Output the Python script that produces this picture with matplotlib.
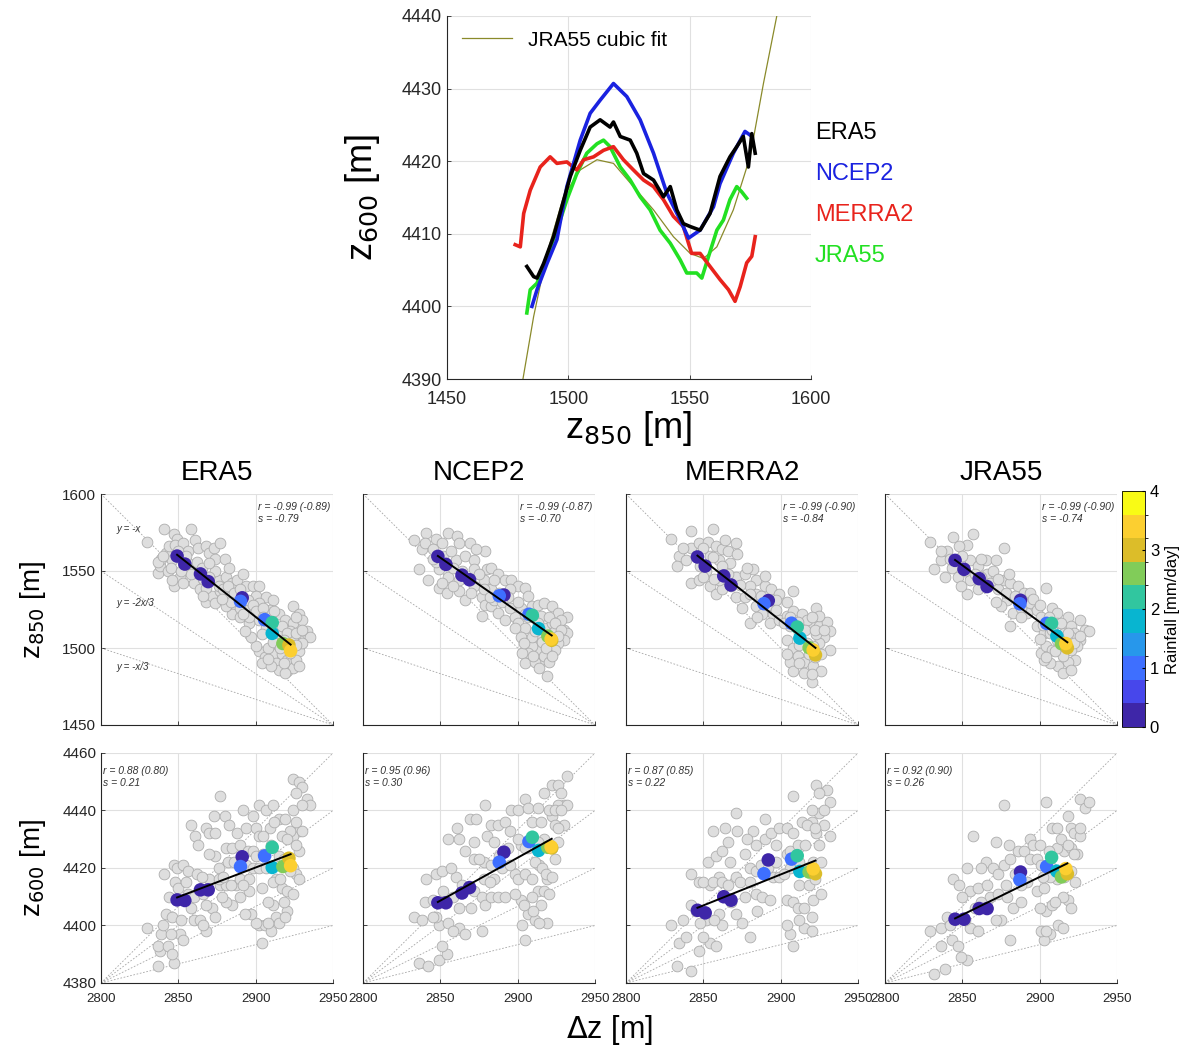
import numpy as np
import matplotlib
matplotlib.use('Agg')
import matplotlib.pyplot as plt
from matplotlib.colors import ListedColormap, BoundaryNorm

plt.rcParams['font.family'] = ['Liberation Sans', 'DejaVu Sans']

names = ['ERA5', 'NCEP2', 'MERRA2', 'JRA55']
curve_colors = ['black', '#1a22e0', '#e8231c', '#22e022']

# ---- top panel: running curves z600 vs z850
era5_c850 = [1482.9, 1485.7, 1487.1, 1489.8, 1493.9, 1497.3, 1500.8, 1504.9, 1509.0, 1513.1, 1517.2, 1518.6,
             1521.4, 1525.5, 1528.2, 1531.0, 1535.1, 1539.2, 1542.0, 1544.7, 1547.4, 1550.2, 1554.3, 1558.4,
             1562.5, 1566.6, 1569.4, 1572.1, 1574.2, 1575.6, 1577.0]
era5_c600 = [4405.5, 4404.1, 4403.9, 4405.9, 4409.6, 4413.7, 4417.9, 4421.5, 4424.7, 4425.7, 4424.7, 4425.4,
             4423.4, 4422.9, 4421.1, 4418.3, 4417.4, 4415.1, 4416.5, 4413.3, 4411.4, 4411.0, 4410.5, 4412.8,
             4417.9, 4420.6, 4422.0, 4423.4, 4419.2, 4423.8, 4421.1]
ncep2_c850 = [1485.0, 1487.1, 1491.2, 1495.3, 1499.4, 1504.9, 1509.0, 1513.1, 1518.6, 1524.1, 1529.6, 1535.1,
              1540.6, 1546.1, 1549.5, 1554.3, 1559.8, 1562.5, 1568.0, 1572.8, 1574.9]
ncep2_c600 = [4400.0, 4402.3, 4405.9, 4409.2, 4416.5, 4422.9, 4426.6, 4428.4, 4430.7, 4428.9, 4425.7, 4421.1,
              4415.6, 4411.9, 4409.4, 4410.5, 4413.7, 4416.9, 4421.1, 4424.1, 4423.6]
merra2_c850 = [1478.1, 1480.2, 1481.6, 1484.3, 1488.4, 1492.5, 1495.3, 1499.4, 1503.5, 1506.3, 1510.4, 1514.5,
               1518.6, 1522.7, 1526.8, 1531.0, 1535.1, 1539.2, 1543.3, 1547.4, 1550.8, 1554.3, 1558.4, 1562.5,
               1566.0, 1568.7, 1570.8, 1573.5, 1575.6, 1577.0]
merra2_c600 = [4408.5, 4408.2, 4412.8, 4416.0, 4419.2, 4420.6, 4419.7, 4419.9, 4418.8, 4420.2, 4420.6, 4421.5,
               4422.0, 4420.2, 4418.8, 4417.4, 4416.5, 4414.7, 4412.4, 4411.0, 4407.3, 4407.3, 4405.5, 4403.7,
               4402.3, 4400.7, 4402.7, 4406.0, 4406.9, 4409.6]
jra55_c850 = [1482.9, 1484.3, 1487.1, 1491.2, 1495.3, 1499.4, 1503.5, 1507.6, 1511.8, 1514.5, 1517.2, 1521.4,
              1525.5, 1529.6, 1533.7, 1537.8, 1542.0, 1546.1, 1548.8, 1552.9, 1555.0, 1557.8, 1561.2, 1563.9,
              1566.6, 1569.4, 1571.4, 1573.5]
jra55_c600 = [4399.1, 4402.3, 4403.2, 4406.9, 4410.5, 4414.7, 4418.3, 4421.1, 4422.4, 4422.9, 4422.0, 4419.2,
              4417.4, 4415.1, 4413.3, 4410.5, 4408.7, 4406.4, 4404.6, 4404.6, 4403.9, 4406.9, 4410.5, 4411.9,
              4414.7, 4416.5, 4415.8, 4414.9]
fit_c850 = [1481.3, 1485.7, 1491.2, 1498.0, 1504.9, 1511.8, 1518.6, 1526.8, 1535.1, 1543.3, 1550.2, 1555.7,
            1561.2, 1568.0, 1574.9, 1580.4, 1585.9]
fit_c600 = [4390.0, 4398.6, 4407.3, 4415.1, 4418.8, 4420.2, 4419.7, 4416.5, 4413.3, 4409.6, 4407.3, 4406.6,
            4408.2, 4413.3, 4420.6, 4430.7, 4440.0]

# ---- daily samples (thickness dz, z850); z600 = z850 + dz
era5_dz = [2830, 2841, 2847, 2858, 2849, 2837, 2838, 2839, 2842, 2844, 2846, 2848, 2853, 2856, 2861, 2863, 2868, 2870,
           2873, 2874, 2877, 2880, 2856, 2860, 2851, 2847, 2853, 2860, 2864, 2868, 2872, 2874, 2876, 2881, 2883, 2885,
           2888, 2892, 2874, 2894, 2898, 2902, 2900, 2907, 2911, 2902, 2894, 2887, 2885, 2881, 2890, 2898, 2902, 2896,
           2909, 2915, 2924, 2928, 2919, 2924, 2930, 2933, 2935, 2928, 2924, 2922, 2915, 2913, 2902, 2906, 2911, 2917,
           2920, 2924, 2928, 2930, 2913, 2915, 2920, 2924, 2926, 2904, 2900, 2897, 2893, 2837, 2843, 2846, 2870, 2877,
           2868, 2881, 2888, 2907, 2904, 2926, 2921, 2928, 2919, 2910,
           2840, 2845, 2850, 2855, 2858, 2862, 2865, 2866, 2870, 2876, 2879, 2882, 2886, 2890, 2884, 2890, 2895, 2898,
           2900, 2905, 2905, 2910, 2912, 2917, 2920, 2926, 2930, 2918, 2926, 2908, 2911, 2916, 2922, 2908, 2918, 2896,
           2892, 2878, 2866, 2852]
era5_z850 = [1569, 1577, 1574, 1577, 1571, 1549, 1553, 1558, 1562, 1566, 1557, 1567, 1568, 1563, 1570, 1565, 1566, 1562,
             1565, 1558, 1568, 1558, 1555, 1550, 1546, 1540, 1542, 1542, 1538, 1530, 1534, 1529, 1544, 1546, 1552, 1542,
             1544, 1548, 1550, 1540, 1540, 1540, 1534, 1533, 1531, 1529, 1527, 1527, 1522, 1527, 1520, 1522, 1518, 1516,
             1525, 1522, 1527, 1522, 1518, 1516, 1518, 1511, 1507, 1505, 1507, 1511, 1509, 1503, 1498, 1494, 1496, 1496,
             1492, 1496, 1498, 1503, 1490, 1486, 1485, 1487, 1492, 1490, 1501, 1507, 1511, 1556, 1550, 1544, 1546, 1537,
             1539, 1533, 1534, 1513, 1509, 1520, 1502, 1488, 1484, 1488,
             1560, 1552, 1563, 1560, 1548, 1556, 1552, 1545, 1555, 1540, 1538, 1540, 1536, 1538, 1530, 1526, 1531, 1528,
             1524, 1526, 1520, 1518, 1524, 1514, 1510, 1510, 1512, 1505, 1502, 1500, 1504, 1500, 1497, 1493, 1490, 1520,
             1522, 1532, 1534, 1550]
ncep2_dz = [2833, 2841, 2855, 2861, 2847, 2851, 2862, 2869, 2879, 2873, 2838, 2836, 2842, 2849, 2855, 2860, 2866, 2872,
            2849, 2854, 2862, 2866, 2872, 2878, 2880, 2883, 2887, 2892, 2896, 2900, 2905, 2907, 2895, 2883, 2877, 2879,
            2883, 2887, 2892, 2877, 2898, 2900, 2905, 2902, 2898, 2909, 2913, 2917, 2922, 2926, 2932, 2930, 2926, 2932,
            2930, 2926, 2924, 2919, 2915, 2913, 2909, 2907, 2903, 2905, 2911, 2917, 2920, 2919, 2914, 2917, 2922, 2907,
            2915, 2924, 2847, 2862, 2894, 2885, 2872, 2909, 2928,
            2840, 2845, 2852, 2857, 2858, 2864, 2868, 2845, 2851, 2858, 2875, 2878, 2885, 2888, 2890, 2895, 2902, 2905,
            2900, 2910, 2913, 2920, 2924, 2928, 2911, 2916, 2922, 2926, 2918, 2910, 2914, 2922, 2904, 2870, 2882]
ncep2_z850 = [1570, 1575, 1575, 1573, 1571, 1568, 1568, 1568, 1563, 1564, 1564, 1551, 1544, 1551, 1546, 1557, 1560, 1557,
              1539, 1536, 1537, 1531, 1540, 1544, 1551, 1552, 1548, 1544, 1544, 1540, 1539, 1534, 1538, 1538, 1533, 1528,
              1527, 1523, 1518, 1521, 1520, 1516, 1513, 1507, 1513, 1527, 1528, 1529, 1527, 1523, 1520, 1512, 1516, 1510,
              1505, 1503, 1499, 1497, 1492, 1499, 1501, 1497, 1497, 1490, 1491, 1495, 1491, 1482, 1507, 1513, 1516, 1520,
              1521, 1511, 1556, 1544, 1533, 1531, 1551, 1507, 1518,
              1568, 1564, 1560, 1563, 1552, 1550, 1545, 1558, 1542, 1540, 1548, 1538, 1544, 1536, 1530, 1526, 1526, 1522,
              1530, 1520, 1516, 1520, 1516, 1512, 1511, 1504, 1505, 1508, 1500, 1495, 1487, 1495, 1503, 1536, 1533]
merra2_dz = [2829, 2842, 2856, 2834, 2833, 2839, 2842, 2847, 2853, 2858, 2862, 2866, 2871, 2872, 2860, 2867, 2852, 2842,
             2847, 2854, 2858, 2862, 2860, 2871, 2871, 2877, 2882, 2884, 2880, 2877, 2884, 2890, 2894, 2899, 2897, 2904,
             2908, 2884, 2888, 2880, 2895, 2893, 2899, 2904, 2908, 2914, 2923, 2920, 2925, 2930, 2932, 2928, 2925, 2932,
             2921, 2904, 2908, 2906, 2911, 2915, 2908, 2915, 2921, 2926, 2920, 2917, 2912, 2906, 2917, 2923, 2925, 2848,
             2854, 2875, 2890,
             2837, 2845, 2850, 2856, 2862, 2866, 2857, 2850, 2868, 2874, 2880, 2887, 2892, 2897, 2902, 2906, 2911, 2916,
             2920, 2922, 2928, 2912, 2918, 2922, 2926, 2912, 2920, 2904, 2885, 2878, 2864, 2890]
merra2_z850 = [1571, 1576, 1577, 1560, 1553, 1557, 1565, 1568, 1569, 1566, 1564, 1563, 1568, 1561, 1557, 1555, 1550, 1542,
               1544, 1540, 1535, 1538, 1544, 1533, 1546, 1548, 1551, 1544, 1540, 1533, 1535, 1540, 1538, 1535, 1531, 1530,
               1537, 1527, 1522, 1516, 1522, 1516, 1518, 1521, 1524, 1522, 1526, 1516, 1514, 1517, 1511, 1507, 1503, 1499,
               1501, 1505, 1500, 1491, 1495, 1491, 1485, 1484, 1488, 1485, 1478, 1503, 1510, 1514, 1518, 1509, 1521, 1553,
               1560, 1526, 1531,
               1565, 1560, 1565, 1559, 1553, 1548, 1545, 1546, 1540, 1541, 1535, 1534, 1528, 1525, 1516, 1520, 1517, 1512,
               1520, 1512, 1512, 1502, 1496, 1494, 1496, 1490, 1483, 1496, 1520, 1552, 1570, 1547]
jra55_dz = [2829, 2844, 2857, 2853, 2848, 2840, 2836, 2832, 2843, 2839, 2847, 2855, 2860, 2865, 2872, 2877, 2855, 2853,
            2860, 2866, 2868, 2873, 2877, 2881, 2886, 2879, 2875, 2883, 2881, 2890, 2894, 2892, 2898, 2894, 2904, 2901,
            2898, 2903, 2908, 2911, 2918, 2920, 2926, 2922, 2929, 2932, 2926, 2924, 2920, 2923, 2918, 2912, 2915, 2907,
            2903, 2901, 2904, 2911, 2907, 2900, 2908, 2916, 2916, 2911, 2886, 2862, 2849, 2920,
            2836, 2842, 2850, 2852, 2858, 2862, 2870, 2873, 2866, 2878, 2884, 2888, 2896, 2900, 2902, 2906, 2908, 2914,
            2918, 2922, 2926, 2915, 2910, 2920, 2904, 2872, 2880, 2888]
jra55_z850 = [1569, 1572, 1574, 1567, 1566, 1563, 1557, 1551, 1552, 1546, 1546, 1557, 1553, 1557, 1557, 1565, 1544, 1535,
              1538, 1548, 1542, 1538, 1544, 1542, 1540, 1531, 1527, 1523, 1514, 1536, 1529, 1523, 1525, 1536, 1539, 1520,
              1514, 1510, 1526, 1523, 1520, 1514, 1518, 1510, 1512, 1511, 1505, 1501, 1499, 1492, 1491, 1488, 1484, 1490,
              1492, 1497, 1501, 1505, 1510, 1506, 1499, 1501, 1510, 1516, 1531, 1546, 1540, 1507,
              1563, 1558, 1560, 1550, 1548, 1558, 1550, 1545, 1540, 1536, 1534, 1526, 1532, 1528, 1515, 1520, 1512, 1516,
              1510, 1503, 1508, 1495, 1498, 1486, 1494, 1530, 1548, 1520]

# ---- rainfall-binned composites
rain_bins = [0.2, 0.2, 0.2, 0.2, 0.2, 1.0, 1.0, 2.2, 1.8, 2.6, 3.1, 3.5]
era5_bin_dz = [2849.2, 2854.2, 2864.3, 2869.3, 2891.3, 2890.2, 2905.8, 2910.7, 2910.7, 2917.6, 2921.5, 2922.6]
era5_bin_z850 = [1559.7, 1554.5, 1548.1, 1543.1, 1532.6, 1530.3, 1518.4, 1516.5, 1509.5, 1502.9, 1501.9, 1498.2]
ncep2_bin_dz = [2848.4, 2853.6, 2864.0, 2868.9, 2891.1, 2888.1, 2907.3, 2909.5, 2913.5, 2919.5, 2922.0, 2921.6]
ncep2_bin_z850 = [1559.5, 1554.3, 1547.3, 1544.3, 1534.4, 1533.9, 1521.9, 1521.2, 1512.6, 1507.7, 1505.0, 1505.8]
merra2_bin_dz = [2846.2, 2851.2, 2863.2, 2867.9, 2892.0, 2889.2, 2907.0, 2910.7, 2912.4, 2918.4, 2922.5, 2921.0]
merra2_bin_z850 = [1559.1, 1553.2, 1546.8, 1540.9, 1530.8, 1528.8, 1516.1, 1513.6, 1506.4, 1500.2, 1495.5, 1498.7]
jra55_bin_dz = [2845.3, 2851.1, 2860.9, 2866.0, 2887.6, 2887.2, 2904.5, 2907.7, 2911.1, 2914.1, 2917.9, 2916.9]
jra55_bin_z850 = [1556.9, 1551.1, 1545.0, 1539.9, 1531.0, 1528.7, 1516.0, 1516.0, 1507.8, 1502.8, 1500.1, 1502.9]

stats_850 = ['r = -0.99 (-0.89)\ns = -0.79', 'r = -0.99 (-0.87)\ns = -0.70',
             'r = -0.99 (-0.90)\ns = -0.84', 'r = -0.99 (-0.90)\ns = -0.74']
stats_600 = ['r = 0.88 (0.80)\ns = 0.21', 'r = 0.95 (0.96)\ns = 0.30',
             'r = 0.87 (0.85)\ns = 0.22', 'r = 0.92 (0.90)\ns = 0.26']

parula10 = [(0.2422, 0.1504, 0.6603), (0.2803, 0.2782, 0.9221), (0.2440, 0.4358, 0.9988),
            (0.1540, 0.5902, 0.9218), (0.0297, 0.7082, 0.8163), (0.1938, 0.7758, 0.6251),
            (0.5044, 0.7993, 0.3480), (0.8634, 0.7406, 0.1596), (0.9892, 0.8136, 0.1885),
            (0.9769, 0.9839, 0.0805)]
cmap = ListedColormap(parula10)
norm = BoundaryNorm(np.linspace(0, 4, 11), cmap.N)

W, H = 1194, 1051
fig = plt.figure(figsize=(W / 100, H / 100), dpi=100)

def style(ax, size):
    for s in ['top', 'right']:
        ax.spines[s].set_visible(False)
    for s in ['left', 'bottom']:
        ax.spines[s].set_color('0.15')
        ax.spines[s].set_linewidth(0.8)
    ax.tick_params(direction='in', length=3, width=0.6, colors='0.15', labelsize=size)
    ax.grid(True, color='0.88', lw=0.8)
    ax.set_axisbelow(True)

# ---- top panel
ax0 = fig.add_axes([447 / W, 1 - 379 / H, 364 / W, 363 / H])
style(ax0, 13)
ax0.tick_params(axis='x', pad=9)
ax0.plot(fit_c850, fit_c600, color='#8a8a2a', lw=0.9, label='JRA55 cubic fit')
curves = [(era5_c850, era5_c600), (ncep2_c850, ncep2_c600), (merra2_c850, merra2_c600), (jra55_c850, jra55_c600)]
for i in [3, 2, 1, 0]:
    ax0.plot(curves[i][0], curves[i][1], color=curve_colors[i], lw=2.6)
ax0.set_xlim(1450, 1600)
ax0.set_ylim(4390, 4440)
ax0.set_xticks([1450, 1500, 1550, 1600])
ax0.set_yticks(np.arange(4390, 4441, 10))
ax0.legend(loc='upper left', frameon=False, fontsize=15, handlelength=2.4, handletextpad=0.8,
           borderaxespad=0.3)
ax0.set_xlabel('z$_{850}$ [m]', fontsize=26, labelpad=0)
ax0.set_ylabel('z$_{600}$ [m]', fontsize=26, labelpad=14)
for i, n in enumerate(names):
    fig.text(815 / W, 1 - (133 + 41 * i) / H, n, color=curve_colors[i], fontsize=17, va='center', ha='left')

# ---- scatter panels
dz_all = [era5_dz, ncep2_dz, merra2_dz, jra55_dz]
z850_all = [era5_z850, ncep2_z850, merra2_z850, jra55_z850]
bdz_all = [era5_bin_dz, ncep2_bin_dz, merra2_bin_dz, jra55_bin_dz]
bz850_all = [era5_bin_z850, ncep2_bin_z850, merra2_bin_z850, jra55_bin_z850]
lefts = [101, 363, 626, 885]

for j in range(4):
    dz = np.array(dz_all[j], float)
    z850 = np.array(z850_all[j], float)
    z600 = z850 + dz
    bdz = np.array(bdz_all[j])
    b850 = np.array(bz850_all[j])
    b600 = b850 + bdz
    order = np.argsort(rain_bins, kind='stable')

    for row, (yv, by, ylim, yticks) in enumerate([
            (z850, b850, (1450, 1600), np.arange(1450, 1601, 50)),
            (z600, b600, (4380, 4460), np.arange(4380, 4461, 20))]):
        if row == 0:
            ax = fig.add_axes([lefts[j] / W, 1 - 725 / H, 232 / W, 231 / H])
        else:
            ax = fig.add_axes([lefts[j] / W, 1 - 983 / H, 232 / W, 230 / H])
        style(ax, 11)
        ax.tick_params(axis='x', labelsize=9.5, pad=7)
        ax.set_xlim(2800, 2950)
        ax.set_ylim(*ylim)
        ax.set_xticks([2800, 2850, 2900, 2950])
        ax.set_yticks(yticks)
        if row == 0:
            ax.set_xticklabels([])
            for k in [1, 2 / 3, 1 / 3]:
                xs = np.array([2800, 2950])
                ax.plot(xs, 1450 - k * (xs - 2950), ls=(0, (2, 2)), color='0.65', lw=0.6, zorder=1)
            ax.set_title(names[j], fontsize=20, pad=10)
            ax.text(0.675, 0.965, stats_850[j], transform=ax.transAxes, fontsize=7.5,
                    style='italic', va='top', ha='left', color='0.2', linespacing=1.3)
        else:
            for top in [4460, 4440, 4420, 4400]:
                ax.plot([2800, 2950], [4380, top], ls=(0, (2, 2)), color='0.65', lw=0.6, zorder=1)
            ax.text(0.01, 0.945, stats_600[j], transform=ax.transAxes, fontsize=7.5,
                    style='italic', va='top', ha='left', color='0.2', linespacing=1.3)
        if j > 0:
            ax.set_yticklabels([])
        ax.scatter(dz, yv, s=60, facecolor='0.87', edgecolor='0.68', lw=0.6, zorder=2)
        coef = np.polyfit(bdz, by, 1)
        xs = np.array([bdz.min(), bdz.max()])
        ax.scatter(bdz[order], by[order], s=95, c=np.array(rain_bins)[order], cmap=cmap, norm=norm,
                   edgecolor='none', zorder=3)
        ax.plot(xs, np.polyval(coef, xs), color='black', lw=1.4, zorder=4)
        if j == 0 and row == 0:
            ax.text(2810, 1575, 'y = -x', fontsize=7, style='italic', color='0.2')
            ax.text(2810, 1527, 'y = -2x/3', fontsize=7, style='italic', color='0.2')
            ax.text(2810, 1486, 'y = -x/3', fontsize=7, style='italic', color='0.2')
        if j == 0:
            ax.set_ylabel('z$_{850}$ [m]' if row == 0 else 'z$_{600}$ [m]', fontsize=20, labelpad=10)

fig.text(0.5 * (101 + 1117) / W, 1 - 1030 / H, r'$\Delta$z [m]', fontsize=22, ha='center', va='center')

cax = fig.add_axes([1122 / W, 1 - 727 / H, 23 / W, 236 / H])
sm = plt.cm.ScalarMappable(cmap=cmap, norm=norm)
cb = fig.colorbar(sm, cax=cax, ticks=[0, 1, 2, 3, 4])
cb.outline.set_linewidth(0.6)
cb.ax.tick_params(labelsize=12, length=2, direction='in')
cb.set_label('Rainfall [mm/day]', fontsize=12)

fig.savefig('out.png', dpi=100)
